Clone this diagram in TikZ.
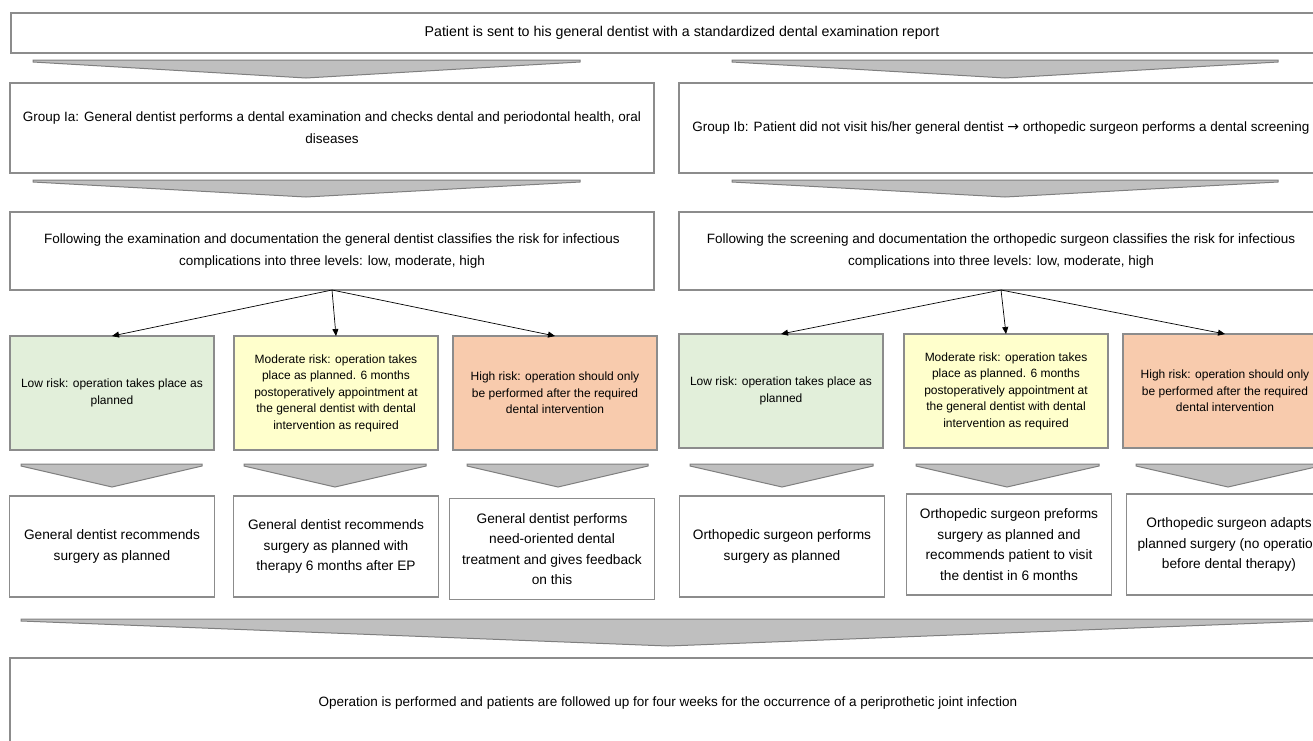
\documentclass[tikz,border=0pt]{standalone}
\usepackage{fontspec}
\setmainfont{Liberation Sans}
\newfontfamily\arrowfont{DejaVu Sans}
\usetikzlibrary{positioning, arrows.meta}
\definecolor{lowgreen}{HTML}{E2EFDA}
\definecolor{midyellow}{HTML}{FFFFCC}
\definecolor{highorange}{HTML}{F8CBAD}
\definecolor{boxline}{HTML}{8C8C8C}
\definecolor{chevfill}{HTML}{BFBFBF}
\definecolor{chevline}{HTML}{7F7F7F}
\tikzset{
    >={Triangle[length=7pt, width=6pt]}, % small filled heads on the branch lines
    every node/.style={inner sep=0pt, outer sep=0pt, align=center},
    box/.style={draw=boxline, line width=1.2pt, fill=white, font=\fontsize{13.5}{22}\selectfont},
    wide/.style={box, minimum width=644pt, minimum height=#1},
    risk/.style={box, fill=#1, minimum width=204pt, minimum height=114pt, font=\fontsize{12}{16.5}\selectfont},
    result/.style={box, minimum width=205pt, minimum height=101pt, font=\fontsize{13.7}{20.5}\selectfont},
    chevron/.style={fill=chevfill, draw=chevline, line width=1pt, line join=miter},
    branch/.style={->, line width=0.7pt},
}
% flat grey block arrow: left x, right x, top y, tip x, tip y
\newcommand{\chev}[5]{\filldraw[chevron] (#1,#3) -- (#2,#3) -- (#2,#3+2) -- (#4,#5) -- (#1,#3+2) -- cycle;}

\begin{document}
\begin{tikzpicture}[x=1pt, y=-1pt]
\useasboundingbox (0,0) rectangle (1313,740);
\clip (0,0) rectangle (1313,740);

% start
\node[box, minimum width=1342pt, minimum height=40pt, font=\fontsize{14.2}{22}\selectfont] (start) at (682,33) {Patient is sent to his general dentist with a standardized dental examination report};
\chev{33}{580}{60}{306}{78}
\chev{732}{1278}{60}{1005}{78}

% the two groups
\node[wide=90pt] (groupA) at (332,128) {Group Ia: General dentist performs a dental examination and checks dental and periodontal health, oral\\diseases};
\node[wide=90pt] (groupB) at (1001,128) {Group Ib: Patient did not visit his/her general dentist {\arrowfont\fontsize{14}{22}\selectfont →} orthopedic surgeon performs a dental screening};
\chev{33}{580}{180}{306}{197}
\chev{732}{1278}{180}{1005}{197}

\node[wide=78pt] (classA) at (332,251) {Following the examination and documentation the general dentist classifies the risk for infectious\\complications into three levels: low, moderate, high};
\node[wide=78pt] (classB) at (1001,251) {Following the screening and documentation the orthopedic surgeon classifies the risk for infectious\\complications into three levels: low, moderate, high};

% risk levels
\node[risk=lowgreen] (lowA) at (112,393) {Low risk: operation takes place as\\planned};
\node[risk=midyellow] (midA) at (336,393) {Moderate risk: operation takes\\place as planned. 6 months\\postoperatively appointment at\\the general dentist with dental\\intervention as required};
\node[risk=highorange] (highA) at (555,393) {High risk: operation should only\\be performed after the required\\dental intervention};
\node[risk=lowgreen] (lowB) at (781,391) {Low risk: operation takes place as\\planned};
\node[risk=midyellow] (midB) at (1006,391) {Moderate risk: operation takes\\place as planned. 6 months\\postoperatively appointment at\\the general dentist with dental\\intervention as required};
\node[risk=highorange] (highB) at (1225,391) {High risk: operation should only\\be performed after the required\\dental intervention};

\draw[branch] (classA.south) -- (lowA.north);
\draw[branch] (classA.south) -- (midA.north);
\draw[branch] (classA.south) -- (highA.north);
\draw[branch] (classB.south) -- (lowB.north);
\draw[branch] (classB.south) -- (midB.north);
\draw[branch] (classB.south) -- (highB.north);

\chev{21}{202}{464}{112}{487}
\chev{244}{426}{464}{335}{487}
\chev{467}{648}{464}{558}{487}
\chev{690}{873}{464}{782}{487}
\chev{916}{1099}{464}{1007}{487}
\chev{1136}{1320}{464}{1228}{487}

% what happens next
\node[result] (endLowA) at (112,546.5) {General dentist recommends\\surgery as planned};
\node[result] (endMidA) at (336,546.5) {General dentist recommends\\surgery as planned with\\therapy 6 months after EP};
\node[result] (endHighA) at (552,549) {General dentist performs\\need-oriented dental\\treatment and gives feedback\\on this};
\node[result] (endLowB) at (782,546.5) {Orthopedic surgeon performs\\surgery as planned};
\node[result] (endMidB) at (1009,544.5) {Orthopedic surgeon preforms\\surgery as planned and\\recommends patient to visit\\the dentist in 6 months};
\node[result] (endHighB) at (1229,544.5) {Orthopedic surgeon adapts\\planned surgery (no operation\\before dental therapy)};

\chev{21}{1315}{619}{668}{646}

\node[box, minimum width=1316pt, minimum height=90pt] (followup) at (668,703) {Operation is performed and patients are followed up for four weeks for the occurrence of a periprothetic joint infection};
\end{tikzpicture}
\end{document}
